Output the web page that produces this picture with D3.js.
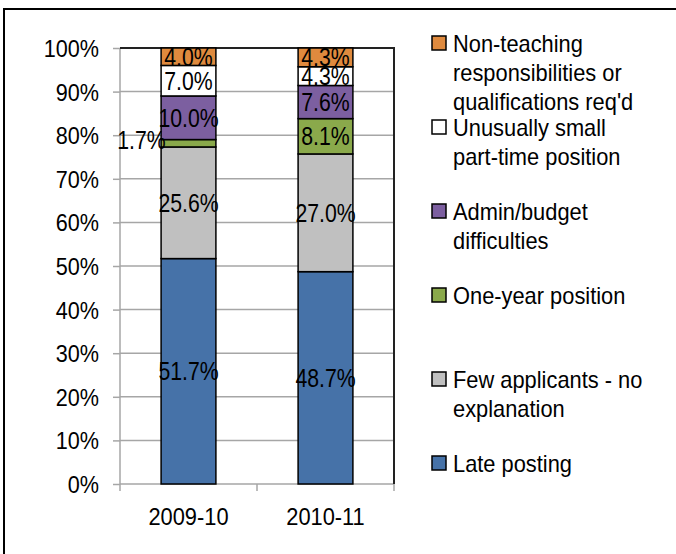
<!DOCTYPE html>
<html>
<head>
<meta charset="UTF-8">
<title>Stacked Bar Chart</title>
<script src="https://cdn.jsdelivr.net/npm/d3@7/dist/d3.min.js"></script>
<style>
  body { margin: 0; background: #fff; }
  text { font-family: "Liberation Sans", Arial, sans-serif; fill: #000; }
</style>
</head>
<body>
<script>
// data
var years = ["2009-10", "2010-11"];
var seriesNames = ["Late posting", "Few applicants - no explanation", "One-year position",
                   "Admin/budget difficulties", "Unusually small part-time position",
                   "Non-teaching responsibilities or qualifications req'd"];
var latePosting = [51.7, 48.7];
var fewApplicants = [25.6, 27.0];
var oneYear = [1.7, 8.1];
var adminBudget = [10.0, 7.6];
var smallPartTime = [7.0, 4.3];
var nonTeaching = [4.0, 4.3];
var yTicks = [0, 10, 20, 30, 40, 50, 60, 70, 80, 90, 100];

// legend text lines, top to bottom
var legendLines = [
  ["Non-teaching", "responsibilities or", "qualifications req'd"],
  ["Unusually small", "part-time position"],
  ["Admin/budget", "difficulties"],
  ["One-year position"],
  ["Few applicants - no", "explanation"],
  ["Late posting"]
];
var colors = ["#4672A8", "#C0C0C0", "#8AA94B", "#7C5FA0", "#FFFFFF", "#DF8A3E"];

var w = 676, h = 554;
var svg = d3.select("body").append("svg").attr("width", w).attr("height", h);

// outer frame (cut at right/bottom edges)
svg.append("rect")
    .attr("x", 4).attr("y", 9)
    .attr("width", 700).attr("height", 600)
    .attr("fill", "none").attr("stroke", "#000").attr("stroke-width", 2);

var pLeft = 120, pRight = 394, pTop = 48, pBottom = 484;

var x = d3.scaleBand().domain(years).range([pLeft, pRight]).paddingInner(0.6).paddingOuter(0.3);
var y = d3.scaleLinear().domain([0, 100]).range([pBottom, pTop]);

var table = years.map(function (yr, i) {
  return {year: yr, s0: latePosting[i], s1: fewApplicants[i], s2: oneYear[i],
          s3: adminBudget[i], s4: smallPartTime[i], s5: nonTeaching[i]};
});
var stack = d3.stack().keys(["s0", "s1", "s2", "s3", "s4", "s5"]);
var layers = stack(table);

// gridlines
svg.append("g").selectAll("line")
    .data(yTicks.slice(1))
    .enter().append("line")
    .attr("x1", pLeft).attr("x2", pRight)
    .attr("y1", function (d) { return y(d); })
    .attr("y2", function (d) { return y(d); })
    .attr("stroke", "#A6A6A6").attr("stroke-width", 1.5);

// y axis
var yAxis = svg.append("g")
    .attr("transform", "translate(" + pLeft + ",0)")
    .call(d3.axisLeft(y).tickValues(yTicks).tickSize(7).tickPadding(8)
          .tickFormat(function (d) { return d + "%"; }));
yAxis.selectAll("path, line").attr("stroke", "#A6A6A6").attr("stroke-width", 1.5);
yAxis.select(".domain").attr("d", "M0," + pBottom + "V" + pTop);
yAxis.selectAll("text")
    .attr("font-size", 24)
    .attr("font-family", "Liberation Sans, Arial, sans-serif")
    .attr("transform", "scale(0.9,1)")
    .attr("x", -21 / 0.9)
    .attr("dy", "0.35em");

// x axis
var xAxisG = svg.append("g").attr("transform", "translate(0," + pBottom + ")");
xAxisG.append("line").attr("x1", pLeft).attr("x2", pRight)
    .attr("stroke", "#A6A6A6").attr("stroke-width", 1.5);
var bound = [pLeft, (x("2009-10") + x.bandwidth() / 2 + x("2010-11") + x.bandwidth() / 2) / 2, pRight];
xAxisG.selectAll("line.tk").data(bound).enter().append("line")
    .attr("class", "tk")
    .attr("x1", function (d) { return d; }).attr("x2", function (d) { return d; })
    .attr("y1", 0).attr("y2", 7)
    .attr("stroke", "#A6A6A6").attr("stroke-width", 1.5);
xAxisG.selectAll("text").data(years).enter().append("text")
    .attr("transform", function (d) {
      return "translate(" + (x(d) + x.bandwidth() / 2) + ",41) scale(0.95,1)";
    })
    .attr("text-anchor", "middle")
    .attr("font-size", 23)
    .text(function (d) { return d; });

// plot area border top/right
svg.append("path")
    .attr("d", "M" + pLeft + "," + pTop + "H" + pRight + "V" + pBottom)
    .attr("fill", "none").attr("stroke", "#222").attr("stroke-width", 2);

// bars
var layerG = svg.selectAll("g.layer")
    .data(layers)
    .enter().append("g")
    .attr("class", "layer")
    .attr("fill", function (d, i) { return colors[i]; });

layerG.selectAll("rect")
    .data(function (d) { return d; })
    .enter().append("rect")
    .attr("x", function (d) { return x(d.data.year); })
    .attr("y", function (d) { return y(d[1]); })
    .attr("width", x.bandwidth())
    .attr("height", function (d) { return y(d[0]) - y(d[1]); })
    .attr("stroke", "#000").attr("stroke-width", 1.5);

// value labels
layers.forEach(function (layer, i) {
  layer.forEach(function (d) {
    var v = d[1] - d[0];
    var cx = x(d.data.year) + x.bandwidth() / 2;
    var cy = y((d[0] + d[1]) / 2);
    if (v < 3) { cx = cx - 47; cy = cy - 3; }
    svg.append("text")
        .attr("transform", "translate(" + cx + "," + cy + ") scale(0.85,1)")
        .attr("text-anchor", "middle")
        .attr("dy", "0.36em")
        .attr("font-size", 25)
        .text(v.toFixed(1) + "%");
  });
});

// legend
var legendG = svg.append("g");
legendLines.forEach(function (lines, i) {
  var by = 52 + i * 84;
  legendG.append("rect")
      .attr("x", 432).attr("y", by - 16)
      .attr("width", 14).attr("height", 14)
      .attr("fill", colors[5 - i])
      .attr("stroke", "#000").attr("stroke-width", 1.5);
  lines.forEach(function (ln, j) {
    legendG.append("text")
        .attr("transform", "translate(453," + (by + j * 29) + ") scale(0.95,1)")
        .attr("font-size", 23)
        .text(ln);
  });
});
</script>
</body>
</html>
